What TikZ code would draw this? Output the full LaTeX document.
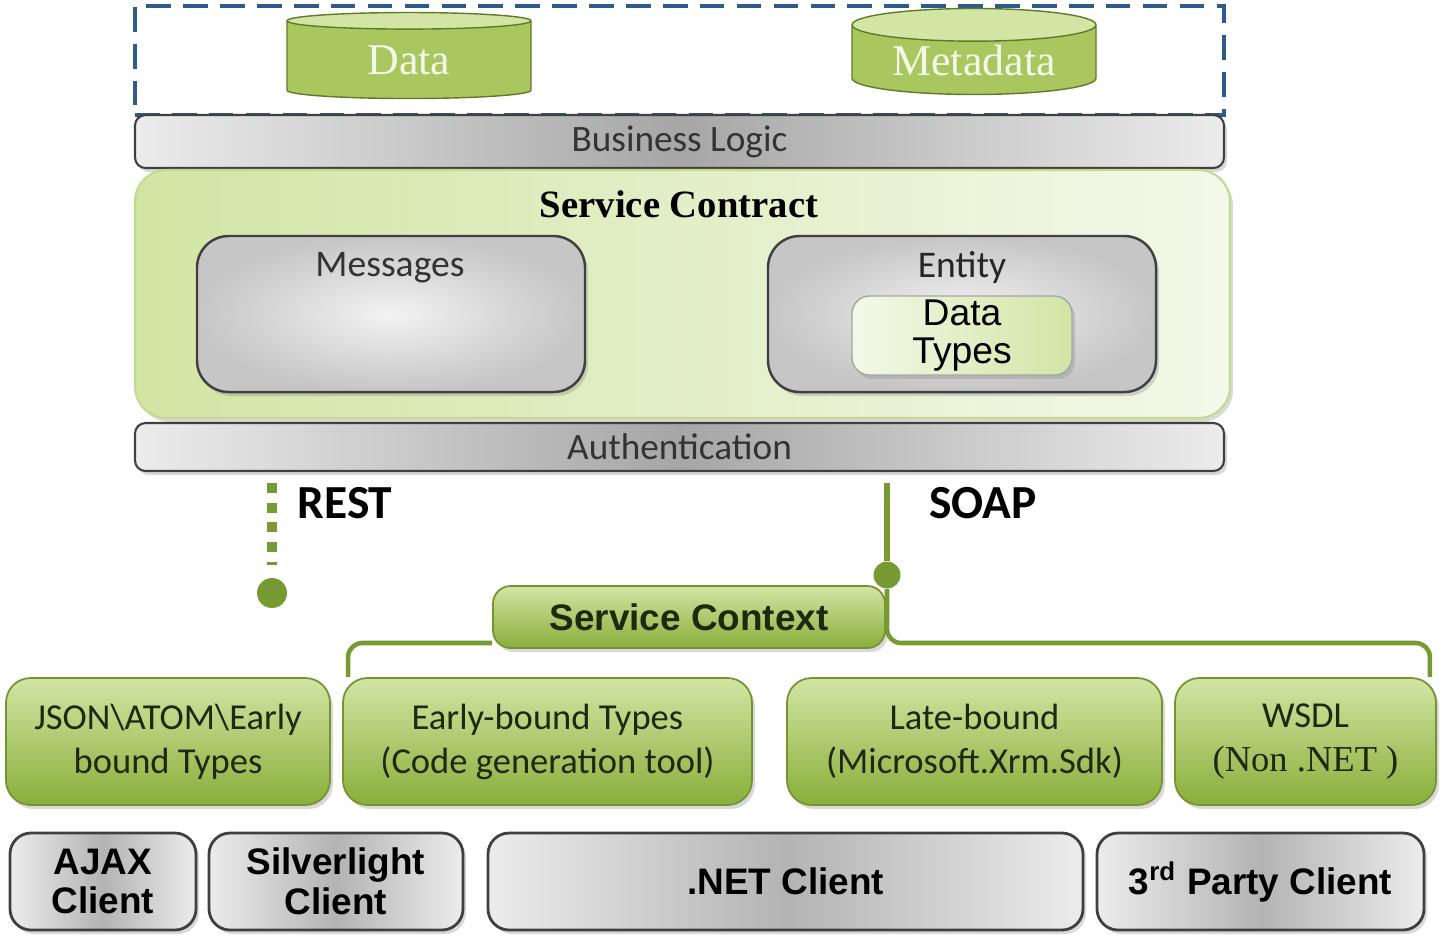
\documentclass[tikz,border=0pt]{standalone}
\usepackage{fontspec}
\setmainfont{Carlito}
\newfontfamily\arialfont{Liberation Sans}
\newfontfamily\serifont{Liberation Serif}
\usetikzlibrary{shapes.geometric,shadows}
\definecolor{greendark}{HTML}{8AAE3A}
\definecolor{greenmid}{HTML}{A9C75E}
\definecolor{greenlight}{HTML}{D2E5A4}
\definecolor{greenpale}{HTML}{F4F8EA}
\definecolor{linkgreen}{HTML}{789A32}
\definecolor{graydark}{HTML}{A6A6A6}
\definecolor{graylight}{HTML}{ECECEC}
\definecolor{dashblue}{HTML}{2F5A8E}
\definecolor{textdark}{HTML}{1E2A10}
\begin{document}
\begin{tikzpicture}[
	softshadow/.style={drop shadow={opacity=0.3, shadow xshift=0.03cm, shadow yshift=-0.04cm}},
	bar/.style={softshadow, draw=black!75, line width=0.6pt, rounded corners=3pt, inner sep=0pt, minimum width=10.89cm, left color=graylight, right color=graylight, middle color=graydark, text=black!80, font=\fontsize{10.6}{13}\selectfont},
	greenbox/.style={softshadow, draw=greendark!85!black, line width=0.5pt, rounded corners=7pt, inner sep=0pt, top color=greenlight, bottom color=greendark, text=textdark, align=center, font=\fontsize{10.4}{12.5}\selectfont},
	graybox/.style={softshadow, draw=black!75, line width=0.7pt, rounded corners=9pt, inner sep=0pt, minimum width=3.88cm, minimum height=1.56cm, inner color=gray!10, outer color=gray!45},
	client/.style={softshadow, draw=black!75, line width=0.8pt, rounded corners=6pt, inner sep=0pt, minimum height=0.97cm, left color=graylight, right color=graylight, middle color=graydark!85, align=center, font=\arialfont\bfseries\fontsize{10.5}{11.3}\selectfont},
	store/.style={shape=cylinder, shape border rotate=90, aspect=0.2, cylinder uses custom fill, cylinder body fill=greenmid, cylinder end fill=greenlight, draw=greendark!70!black, line width=0.4pt, minimum width=2.44cm, minimum height=0.86cm, inner sep=0pt, text=greenpale, font=\serifont\fontsize{12.5}{14}\selectfont},
	link/.style={draw=linkgreen, line width=1.3pt},
	dot/.style={circle, fill=linkgreen, inner sep=0pt},
	proto/.style={font=\bfseries\fontsize{13.5}{15}\selectfont},
]
	\useasboundingbox (0,0) rectangle (14.41,-9.37);

	% storage
	\node[draw=dashblue, line width=1.3pt, dash pattern=on 7pt off 3.5pt, minimum width=10.89cm, minimum height=1.09cm, inner sep=0pt] (storage) at (6.795,-0.605) {};
	\node[store] (data) at (4.09,-0.60) {Data};
	\node[store] (meta) at (9.74,-0.60) {Metadata};

	\node[bar, minimum height=0.53cm] (biz) at (6.795,-1.415) {Business Logic};

	% service contract
	\node[softshadow, draw=greenlight!80!greendark, line width=0.6pt, rounded corners=9pt, left color=greenlight, right color=greenpale, minimum width=10.95cm, minimum height=2.48cm, inner sep=0pt] (contract) at (6.825,-2.94) {};
	\node[font=\serifont\bfseries\fontsize{11}{13}\selectfont] (contracttitle) at (6.79,-2.04) {Service Contract};
	\node[graybox] (msgs) at (3.91,-3.14) {};
	\node[text=black!80, font=\fontsize{10.7}{13}\selectfont] (msgstitle) at (3.90,-2.68) {Messages};
	\node[graybox] (entity) at (9.62,-3.14) {};
	\node[text=black!85, font=\fontsize{10.7}{13}\selectfont] (entitytitle) at (9.62,-2.68) {Entity};
	\node[softshadow, draw=black!35, line width=0.4pt, rounded corners=5pt, inner sep=0pt, left color=greenpale, right color=greenlight, minimum width=2.2cm, minimum height=0.79cm, align=center, font=\arialfont\fontsize{10.6}{11}\selectfont] (dtypes) at (9.62,-3.355) {Data\\Types};

	\node[bar, minimum height=0.48cm] (auth) at (6.795,-4.47) {Authentication};

	% protocols
	\node[dot, minimum size=0.3cm] (restdot) at (2.72,-5.93) {};
	\node[proto] (rest) at (3.45,-5.03) {REST};
	\node[dot, minimum size=0.27cm] (soapdot) at (8.87,-5.75) {};
	\node[proto] (soap) at (9.83,-5.03) {SOAP};
	\node[greenbox, font=\arialfont\bfseries\fontsize{10.5}{12}\selectfont, rounded corners=5pt, minimum width=3.92cm, minimum height=0.62cm] (ctx) at (6.89,-6.17) {Service Context};

	% client libraries
	\node[greenbox, minimum width=3.24cm, minimum height=1.27cm] (json) at (1.68,-7.415) {JSON\textbackslash ATOM\textbackslash Early\\bound Types};
	\node[greenbox, minimum width=4.09cm, minimum height=1.27cm] (early) at (5.475,-7.415) {Early-bound Types\\(Code generation tool)};
	\node[greenbox, minimum width=3.75cm, minimum height=1.27cm] (late) at (9.745,-7.415) {Late-bound\\(Microsoft.Xrm.Sdk)};
	\node[greenbox, minimum width=2.61cm, minimum height=1.27cm] (wsdl) at (13.055,-7.415) {WSDL\\{\serifont (Non .NET )}};

	% clients
	\node[client, minimum width=1.86cm] (ajax) at (1.03,-8.815) {AJAX\\Client};
	\node[client, minimum width=2.54cm] (silver) at (3.36,-8.815) {Silverlight\\Client};
	\node[client, minimum width=5.95cm] (net) at (7.855,-8.815) {.NET Client};
	\node[client, minimum width=3.27cm] (third) at (12.605,-8.815) {3\textsuperscript{rd} Party Client};

	% connectors
	\coordinate (brk) at (0,-6.43);
	\coordinate (lfoot) at ([xshift=0.06cm]early.north west);
	\coordinate (rfoot) at ([xshift=-0.07cm]wsdl.north east);
	\draw[link, line width=2.8pt, dash pattern=on 2.8pt off 2.8pt, shorten <=0.11cm, shorten >=0.12cm] (restdot |- auth.south) -- (restdot);
	\draw[link, line width=1.5pt, shorten >=0.11cm] (soapdot) -- (soapdot |- auth.south);
	\draw[link, rounded corners=4pt] (ctx.west |- brk) -- (lfoot |- brk) -- (lfoot);
	\draw[link, rounded corners=4pt] (soapdot) -- (soapdot |- brk) -- (rfoot |- brk) -- (rfoot);
\end{tikzpicture}
\end{document}
